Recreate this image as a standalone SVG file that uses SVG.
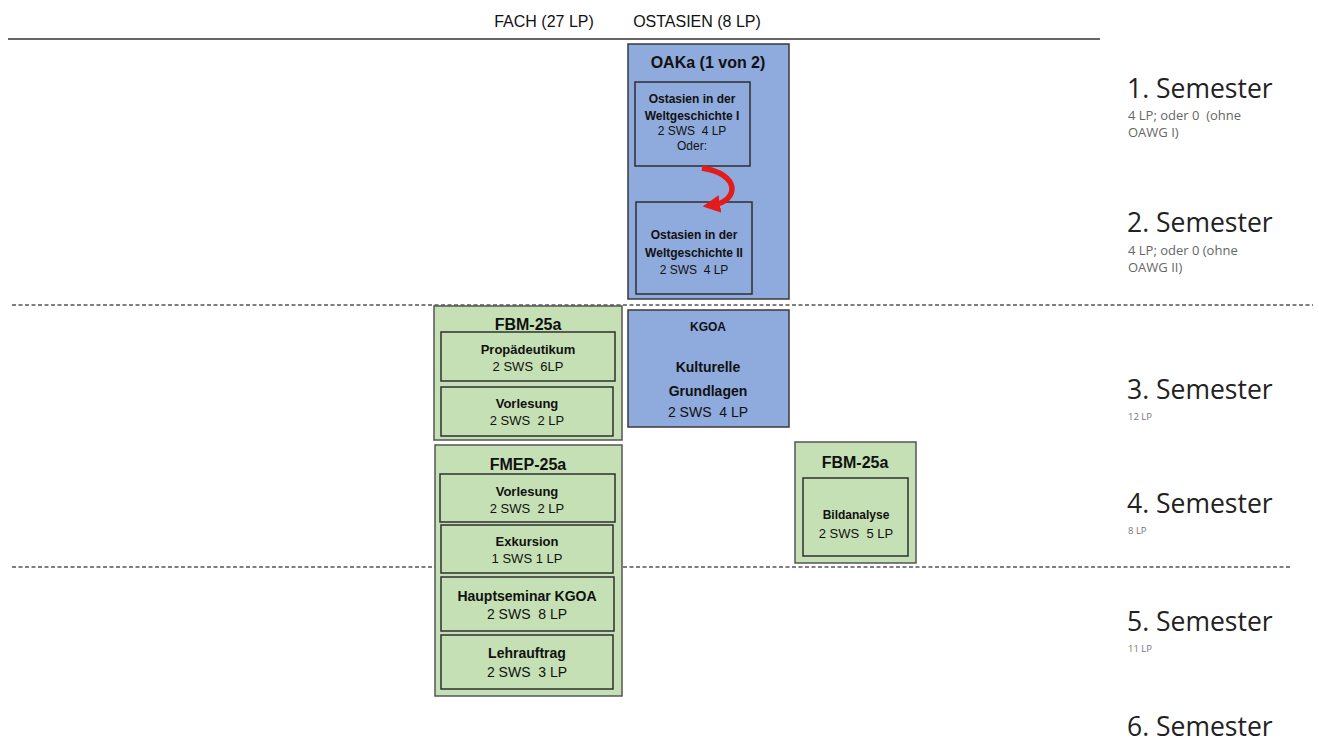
<svg xmlns="http://www.w3.org/2000/svg" width="1319" height="743" viewBox="0 0 1319 743">
<defs>
<style>
.bg{fill:#ffffff}
.blue{fill:#8faadc;stroke:#3a3a3a;stroke-width:1.5}
.green{fill:#c5e0b4;stroke:#555555;stroke-width:1.5}
.inner{fill:none;stroke:#2f2f2f;stroke-width:1.5}
.t{font-family:"Liberation Sans Narrow","Liberation Sans",Arial,sans-serif;text-anchor:middle;fill:#111;white-space:pre}
.b{font-weight:bold}
.hd{font-family:"Liberation Sans Narrow","Liberation Sans",Arial,sans-serif;font-size:16px;fill:#111;text-anchor:middle}
.sem{font-family:"Open Sans","Noto Sans","DejaVu Sans",sans-serif;font-size:26.5px;fill:#222}
.sub{font-family:"Open Sans","Noto Sans","DejaVu Sans",sans-serif;font-size:13px;fill:#666;white-space:pre}
.sub2{font-family:"Open Sans","Noto Sans","DejaVu Sans",sans-serif;font-size:9.5px;fill:#777}
.dash{stroke:#555;stroke-width:1.3;stroke-dasharray:4 2.5;fill:none}
</style>
<marker id="ah" viewBox="0 0 10 10" refX="4" refY="5" markerWidth="3.2" markerHeight="3.2" orient="auto">
<path d="M0,0 L10,5 L0,10 z" fill="#e31b1b"/>
</marker>
</defs>
<rect class="bg" x="0" y="0" width="1319" height="743"/>

<g id="header">
<text class="hd" x="544" y="27">FACH (27 LP)</text>
<text class="hd" x="697" y="27">OSTASIEN (8 LP)</text>
<line x1="8" y1="39" x2="1100" y2="39" stroke="#666" stroke-width="2"/>
</g>

<g id="separators">
<line class="dash" x1="12" y1="305" x2="1313" y2="305"/>
<line class="dash" x1="12" y1="567" x2="1292" y2="567"/>
</g>

<g id="oaka">
<rect class="blue" x="628" y="44" width="161" height="255"/>
<text class="t b" x="708" y="68" font-size="16">OAKa (1 von 2)</text>
<rect class="inner" x="635" y="82" width="115" height="84"/>
<text class="t b" x="692" y="103" font-size="12">Ostasien in der</text>
<text class="t b" x="692" y="120" font-size="12">Weltgeschichte I</text>
<text class="t" x="692" y="135" font-size="12" xml:space="preserve">2 SWS  4 LP</text>
<text class="t" x="692" y="150" font-size="12">Oder:</text>
<rect class="inner" x="636" y="202" width="116" height="92"/>
<text class="t b" x="694" y="239" font-size="12">Ostasien in der</text>
<text class="t b" x="694" y="257" font-size="12">Weltgeschichte II</text>
<text class="t" x="694" y="274" font-size="12" xml:space="preserve">2 SWS  4 LP</text>
</g>

<g id="connectors">
<path d="M 702 168 C 741 174, 739 201, 713 205" fill="none" stroke="#e31b1b" stroke-width="5.5" marker-end="url(#ah)"/>
</g>

<g id="fbm25a-left">
<rect class="green" x="434" y="306" width="188" height="134"/>
<text class="t b" x="528" y="330" font-size="16">FBM-25a</text>
<rect class="inner" x="441" y="332" width="174" height="49"/>
<text class="t b" x="528" y="354" font-size="13">Propädeutikum</text>
<text class="t" x="528" y="371" font-size="13" xml:space="preserve">2 SWS  6LP</text>
<rect class="inner" x="441" y="387" width="172" height="49"/>
<text class="t b" x="527" y="408" font-size="13">Vorlesung</text>
<text class="t" x="527" y="425" font-size="13" xml:space="preserve">2 SWS  2 LP</text>
</g>

<g id="kgoa">
<rect class="blue" x="628" y="310" width="161" height="117"/>
<text class="t b" x="708" y="331" font-size="12">KGOA</text>
<text class="t b" x="708" y="372" font-size="14">Kulturelle</text>
<text class="t b" x="708" y="396" font-size="14">Grundlagen</text>
<text class="t" x="708" y="417" font-size="14" xml:space="preserve">2 SWS  4 LP</text>
</g>

<g id="fmep25a">
<rect class="green" x="435" y="445" width="187" height="251"/>
<text class="t b" x="528" y="470" font-size="16">FMEP-25a</text>
<rect class="inner" x="440" y="474" width="175" height="48"/>
<text class="t b" x="527" y="496" font-size="13">Vorlesung</text>
<text class="t" x="527" y="513" font-size="13" xml:space="preserve">2 SWS  2 LP</text>
<rect class="inner" x="441" y="525" width="172" height="48"/>
<text class="t b" x="527" y="546" font-size="13">Exkursion</text>
<text class="t" x="527" y="563" font-size="13">1 SWS 1 LP</text>
<rect class="inner" x="441" y="577" width="173" height="54"/>
<text class="t b" x="527" y="601" font-size="14">Hauptseminar KGOA</text>
<text class="t" x="527" y="619" font-size="14" xml:space="preserve">2 SWS  8 LP</text>
<rect class="inner" x="441" y="635" width="172" height="54"/>
<text class="t b" x="527" y="658" font-size="14">Lehrauftrag</text>
<text class="t" x="527" y="677" font-size="14" xml:space="preserve">2 SWS  3 LP</text>
</g>

<g id="fbm25a-right">
<rect class="green" x="795" y="442" width="121" height="121"/>
<text class="t b" x="855" y="468" font-size="16">FBM-25a</text>
<rect class="inner" x="803" y="478" width="105" height="78"/>
<text class="t b" x="856" y="519" font-size="12">Bildanalyse</text>
<text class="t" x="856" y="538" font-size="13" xml:space="preserve">2 SWS  5 LP</text>
</g>

<g id="semesters">
<text class="sem" x="1127" y="98">1. Semester</text>
<text class="sub" x="1128" y="120" xml:space="preserve">4 LP; oder 0  (ohne</text>
<text class="sub" x="1128" y="137">OAWG I)</text>
<text class="sem" x="1127" y="232">2. Semester</text>
<text class="sub" x="1128" y="255">4 LP; oder 0 (ohne</text>
<text class="sub" x="1128" y="272">OAWG II)</text>
<text class="sem" x="1127" y="399">3. Semester</text>
<text class="sub2" x="1128" y="420">12 LP</text>
<text class="sem" x="1127" y="513">4. Semester</text>
<text class="sub2" x="1128" y="534">8 LP</text>
<text class="sem" x="1127" y="631">5. Semester</text>
<text class="sub2" x="1128" y="652">11 LP</text>
<text class="sem" x="1127" y="736">6. Semester</text>
</g>
</svg>
